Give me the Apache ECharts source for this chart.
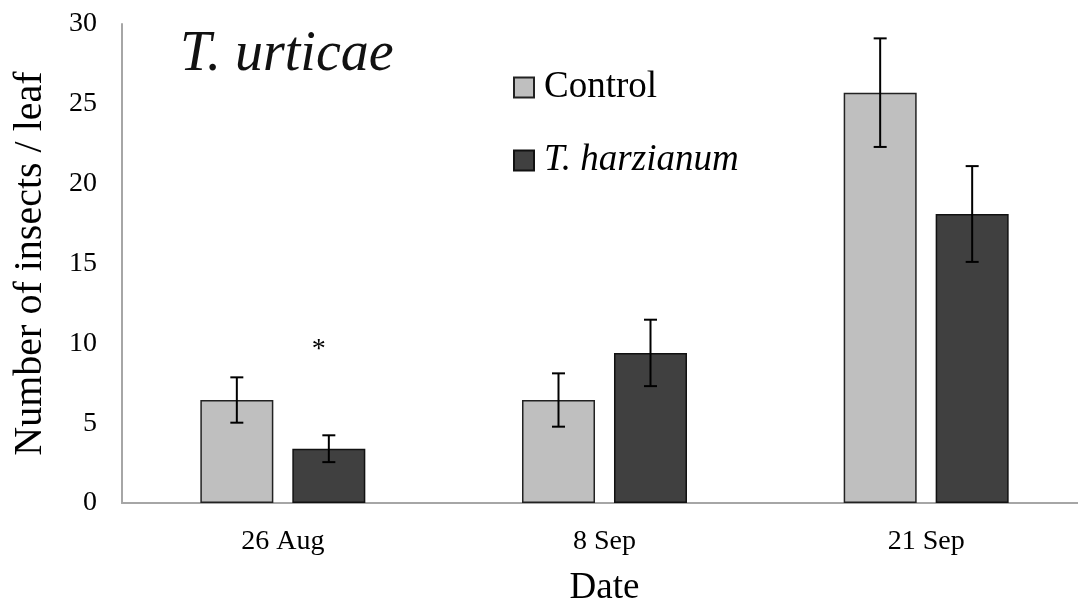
<!DOCTYPE html>
<html>
<head>
<meta charset="utf-8">
<script src="https://cdn.jsdelivr.net/npm/echarts@6/dist/echarts.min.js"></script>
<style>
  html, body { margin: 0; padding: 0; background: #fff; }
  #chart { width: 1078px; height: 604px; }
</style>
</head>
<body>
<div id="chart"></div>
<script>
const dates = ['26 Aug', '8 Sep', '21 Sep'];
const control = [6.45, 6.45, 25.7];
const controlErr = [1.42, 1.67, 3.4];
const harzianum = [3.4, 9.4, 18.1];
const harzianumErr = [0.84, 2.08, 3.0];
// significance mark over the treated bar
const sigMarks = [{ date: '26 Aug', y: 9.6, text: '*' }];

const FONT = 'Liberation Serif';
const BAR_W = 73;
const OFFSET = 46;

function errData(vals, errs) {
  return vals.map((v, i) => [i, v - errs[i], v + errs[i]]);
}

function errSeries(vals, errs, dx) {
  return {
    type: 'custom',
    data: errData(vals, errs),
    encode: { x: 0, y: [1, 2] },
    z: 10,
    silent: true,
    renderItem: (params, api) => {
      const lo = api.coord([api.value(0), api.value(1)]);
      const hi = api.coord([api.value(0), api.value(2)]);
      const x = lo[0] + dx;
      const cap = 6.5;
      const style = { stroke: '#000', lineWidth: 2 };
      return {
        type: 'group',
        children: [
          { type: 'line', shape: { x1: x, y1: hi[1], x2: x, y2: lo[1] }, style },
          { type: 'line', shape: { x1: x - cap, y1: hi[1], x2: x + cap, y2: hi[1] }, style },
          { type: 'line', shape: { x1: x - cap, y1: lo[1], x2: x + cap, y2: lo[1] }, style }
        ]
      };
    }
  };
}

const chart = echarts.init(document.getElementById('chart'), null, { renderer: 'canvas' });

chart.setOption({
  animation: false,
  backgroundColor: '#fff',
  textStyle: { fontFamily: FONT, color: '#000' },
  title: {
    text: 'T. urticae',
    left: 180,
    top: 27,
    padding: 0,
    textStyle: { fontFamily: FONT, fontStyle: 'italic', fontWeight: 'normal', fontSize: 56, color: '#111' }
  },
  legend: {
    orient: 'vertical',
    left: 513,
    top: 69,
    padding: 0,
    itemGap: 36,
    itemWidth: 20,
    itemHeight: 20,
    icon: 'rect',
    data: ['Control', 'T. harzianum'],
    formatter: (name) => name === 'Control' ? '{n|' + name + '}' : '{i|' + name + '}',
    textStyle: {
      fontFamily: FONT,
      fontSize: 37,
      color: '#000',
      rich: {
        n: { fontFamily: FONT, fontSize: 37, color: '#000', padding: [0, 0, 0, 5] },
        i: { fontFamily: FONT, fontSize: 37, fontStyle: 'italic', color: '#000', padding: [0, 0, 0, 5] }
      }
    }
  },
  grid: {
    left: 122,
    right: -9,
    top: 24,
    bottom: 101,
    containLabel: false,
    outerBoundsMode: 'none'
  },
  xAxis: {
    type: 'category',
    data: dates,
    name: 'Date',
    nameLocation: 'middle',
    nameGap: 67,
    nameTextStyle: { fontFamily: FONT, fontSize: 37, color: '#000' },
    axisLine: { lineStyle: { color: '#a6a6a6', width: 2 } },
    axisTick: { show: false },
    axisLabel: { fontFamily: FONT, fontSize: 28, color: '#000', margin: 25 },
    splitLine: { show: false }
  },
  yAxis: {
    type: 'value',
    min: 0,
    max: 30,
    interval: 5,
    name: 'Number of insects / leaf',
    nameLocation: 'middle',
    nameGap: 72,
    nameTextStyle: { fontFamily: FONT, fontSize: 40, color: '#000' },
    axisLine: { show: true, lineStyle: { color: '#a6a6a6', width: 2 } },
    axisTick: { show: false },
    axisLabel: { fontFamily: FONT, fontSize: 28, color: '#000', margin: 25, padding: [6, 0, 0, 0] },
    splitLine: { show: false }
  },
  series: [
    {
      name: 'Control',
      type: 'bar',
      data: control,
      barWidth: BAR_W,
      barGap: '26%',
      itemStyle: { color: '#bfbfbf', borderColor: '#222', borderWidth: 1.5 }
    },
    {
      name: 'T. harzianum',
      type: 'bar',
      data: harzianum,
      barWidth: BAR_W,
      barGap: '26%',
      itemStyle: { color: '#404040', borderColor: '#111', borderWidth: 1.5 },
      markPoint: {
        symbol: 'circle',
        symbolSize: 0,
        silent: true,
        label: {
          show: true,
          position: 'inside',
          offset: [-10, 0],
          fontFamily: FONT,
          fontSize: 28,
          color: '#000',
          formatter: (p) => p.name
        },
        data: sigMarks.map(m => ({ name: m.text, coord: [m.date, m.y] }))
      }
    },
    errSeries(control, controlErr, -OFFSET),
    errSeries(harzianum, harzianumErr, OFFSET)
  ]
});
</script>
</body>
</html>
